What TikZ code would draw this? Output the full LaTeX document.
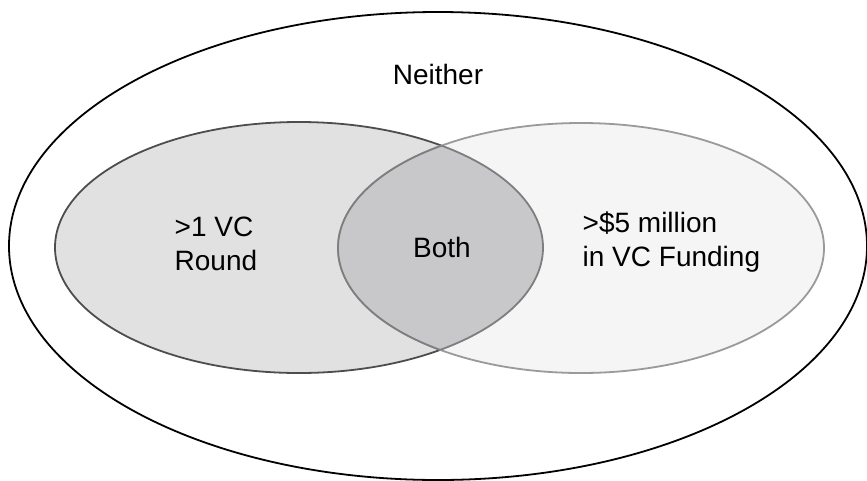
\documentclass[tikz,border=0pt]{standalone}
\usepackage{fontspec}
\setmainfont{Liberation Sans}
\definecolor{leftfill}{HTML}{E1E1E1}
\definecolor{leftdraw}{HTML}{4D4D4D}
\definecolor{rightfill}{HTML}{F4F5F4}
\definecolor{rightdraw}{HTML}{9A9A9A}
\definecolor{bothfill}{HTML}{C8C8CA}
\definecolor{bothdraw}{HTML}{7E7E7E}
\begin{document}
\begin{tikzpicture}[x=1pt,y=-1pt,
  lbl/.style={inner sep=0pt, font=\fontsize{28}{34}\selectfont},
  setline/.style={line width=1.8pt}]
\useasboundingbox (0,0) rectangle (867,480);
\def\leftset{(299,247.5) ellipse [x radius=244, y radius=125.5]}
\def\rightset{(581,248) ellipse [x radius=243, y radius=125]}
% universe
\draw[black, setline] (438,246) ellipse [x radius=429, y radius=234];
% sets
\filldraw[fill=leftfill, draw=leftdraw, setline] \leftset;
\filldraw[fill=rightfill, draw=rightdraw, setline] \rightset;
% intersection
\begin{scope}
  \clip \leftset;
  \fill[bothfill] \rightset;
  \draw[bothdraw, setline] \rightset;
\end{scope}
\begin{scope}
  \clip \rightset;
  \draw[bothdraw, setline] \leftset;
\end{scope}
% labels
\node[lbl, anchor=base] (neither) at (438,84) {Neither};
\node[lbl, anchor=base west] (a1) at (174.5,236) {>1 VC};
\node[lbl, anchor=base west] (a2) at (174.5,270) {Round};
\node[lbl, anchor=base] (both) at (442,257) {Both};
\node[lbl, anchor=base west] (b1) at (582.5,232) {>\$5 million};
\node[lbl, anchor=base west] (b2) at (582.5,266.5) {in VC Funding};
\end{tikzpicture}
\end{document}
